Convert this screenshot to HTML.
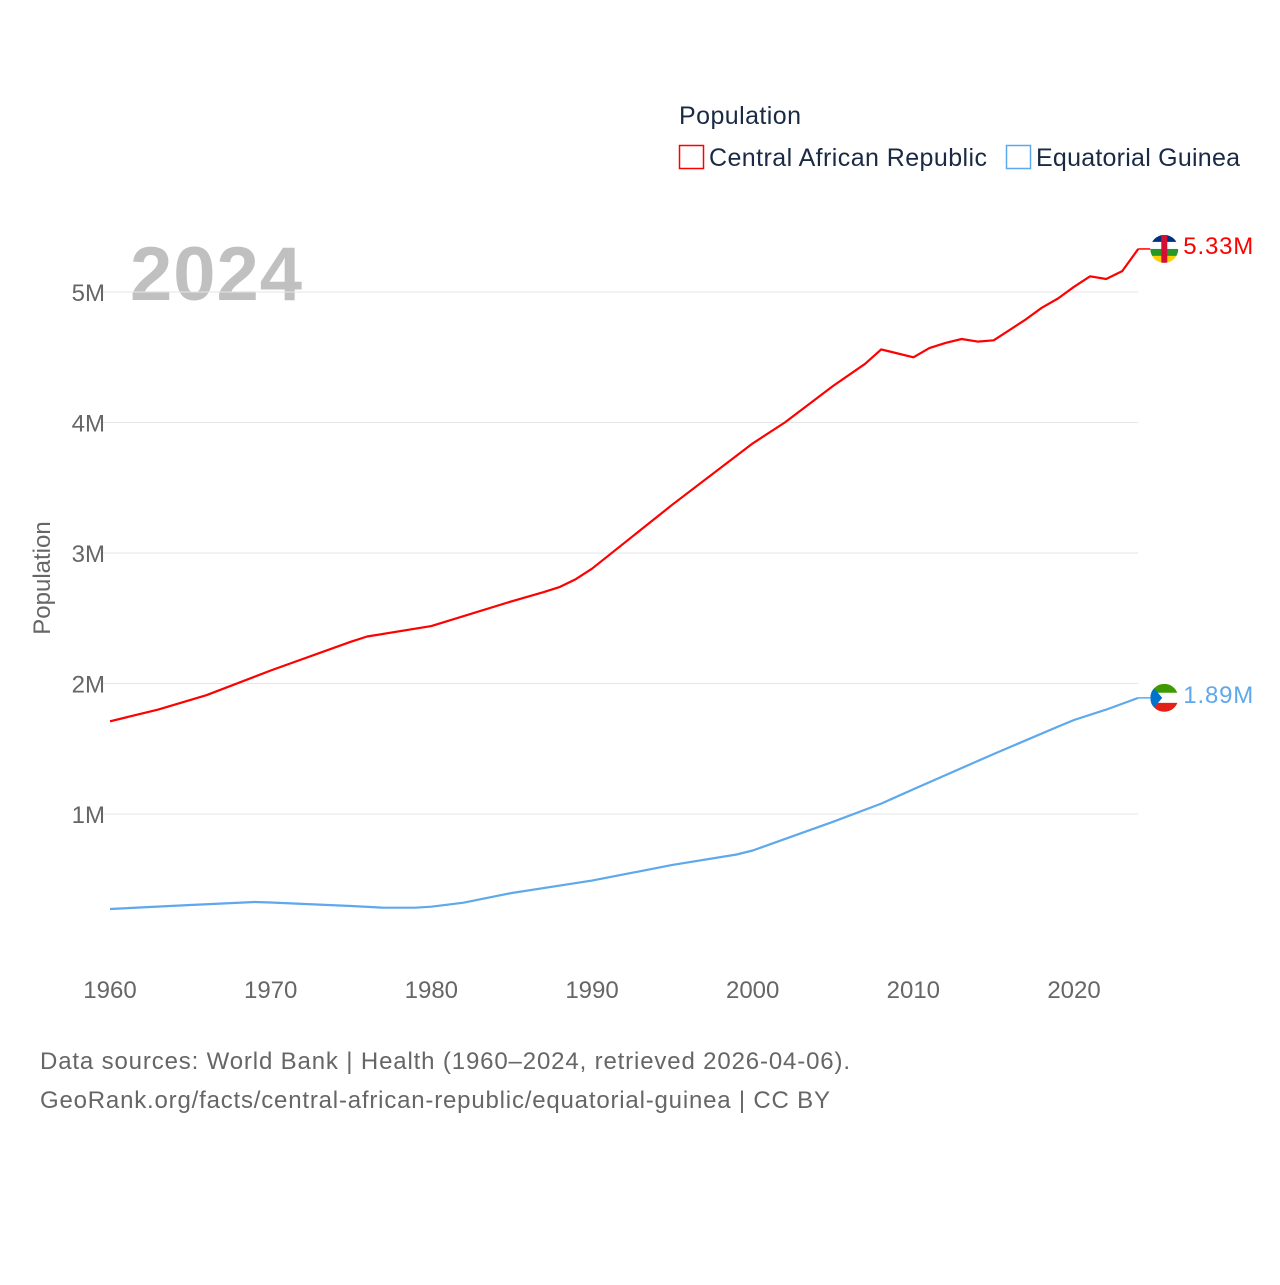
<!DOCTYPE html>
<html><head><meta charset="utf-8"><style>
body{margin:0;background:#fff;width:1280px;height:1280px;overflow:hidden;font-family:"Liberation Sans",sans-serif}
</style></head><body>
<svg id="chart" width="1280" height="1280" xmlns="http://www.w3.org/2000/svg" font-family="Liberation Sans, sans-serif">
<text x="679" y="124" font-size="25" fill="#1a2a44" textLength="122">Population</text>
<rect x="679.5" y="145.5" width="24" height="23" fill="none" stroke="#ff0000" stroke-width="1.5"/>
<text x="709" y="166" font-size="25" fill="#1a2a44" textLength="278">Central African Republic</text>
<rect x="1006.5" y="145.5" width="24" height="23" fill="none" stroke="#5ea8ec" stroke-width="1.5"/>
<text x="1036" y="166" font-size="25" fill="#1a2a44" textLength="204">Equatorial Guinea</text>
<text x="130" y="300" font-size="76" font-weight="bold" fill="#c0c0c0" textLength="172">2024</text>
<text transform="translate(50,578) rotate(-90)" text-anchor="middle" font-size="24" fill="#666">Population</text>
<g id="grid"></g><g id="ticks"></g><g id="series"></g>
<text x="40" y="1069" font-size="24" fill="#666" textLength="810">Data sources: World Bank | Health (1960–2024, retrieved 2026-04-06).</text>
<text x="40" y="1108" font-size="24" fill="#666" textLength="790">GeoRank.org/facts/central-african-republic/equatorial-guinea | CC BY</text>
</svg>
<script>
const yearsCAR=[1960,1963,1966,1970,1975,1976,1980,1985,1987,1988,1989,1990,1995,2000,2002,2005,2007,2008,2010,2011,2012,2013,2014,2015,2017,2018,2019,2020,2021,2022,2023,2024];
const valuesCAR=[1.71,1.80,1.91,2.10,2.32,2.36,2.44,2.63,2.70,2.74,2.80,2.88,3.37,3.84,4.00,4.28,4.45,4.56,4.50,4.57,4.61,4.64,4.62,4.63,4.79,4.88,4.95,5.04,5.12,5.10,5.16,5.33];
const yearsGQ=[1960,1965,1969,1970,1975,1977,1979,1980,1982,1985,1990,1995,1999,2000,2005,2008,2010,2015,2019,2020,2022,2024];
const valuesGQ=[0.272,0.303,0.326,0.322,0.295,0.282,0.282,0.290,0.320,0.395,0.49,0.61,0.69,0.72,0.94,1.08,1.19,1.46,1.67,1.72,1.80,1.89];
const yTicks=[1,2,3,4,5];
const xTicks=[1960,1970,1980,1990,2000,2010,2020];
const X=y=>110+(y-1960)*16.067;
const Y=v=>944.5-v*130.5;
const NS="http://www.w3.org/2000/svg";
function mk(t,a,p){const e=document.createElementNS(NS,t);for(const k in a)e.setAttribute(k,a[k]);p.appendChild(e);return e;}
const grid=document.getElementById('grid'),ticks=document.getElementById('ticks'),series=document.getElementById('series');
yTicks.forEach(v=>{
 const l=mk('line',{x1:100,x2:1138,y1:Y(v),y2:Y(v),stroke:'#e6e6e6','stroke-width':1},grid);
 
 
 const t=mk('text',{x:105,y:Y(v)+9,'text-anchor':'end','font-size':24,fill:'#666'},ticks);
 t.textContent=v+'M';
 
 
});
xTicks.forEach(y=>{
 const t=mk('text',{x:X(y),y:998,'text-anchor':'middle','font-size':24,fill:'#666'},ticks);
 t.textContent=y;
 
 
});
function line(ys,vs,c,name){
 const d=ys.map((y,i)=>(i?'L':'M')+X(y).toFixed(1)+','+Y(vs[i]).toFixed(1)).join('');
 const p=mk('path',{d:d,fill:'none',stroke:c,'stroke-width':2.2,'stroke-linejoin':'round'},series);
 
 
}
line(yearsCAR,valuesCAR,'#ff0000','line-car');
line(yearsGQ,valuesGQ,'#5ea8ec','line-gq');
function endLabel(v,c,name,flag,dy){
 const y=Y(v),x=X(2024);
 mk('line',{x1:x,x2:x+12,y1:y,y2:y,stroke:c,'stroke-width':1.5},series);
 const g=mk('g',{},series);
 
 
 const cx=x+26;
 const cp=mk('clipPath',{id:'cp'+name},g);mk('circle',{cx:cx,cy:y,r:14},cp);
 const gg=mk('g',{'clip-path':'url(#cp'+name+')'},g);
 flag(gg,cx,y);
 const t=mk('text',{x:x+45,y:y+8+dy,'font-size':24,fill:c,textLength:70},series);
 t.textContent=v.toFixed(2)+'M';
 
 
}
endLabel(valuesCAR[valuesCAR.length-1],'#ff0000','car',(g,cx,cy)=>{
 const c=['#003082','#ffffff','#289728','#ffce00'];
 c.forEach((f,i)=>mk('rect',{x:cx-14,y:cy-14+i*7,width:28,height:7,fill:f},g));
 mk('rect',{x:cx-3,y:cy-14,width:6,height:28,fill:'#d21034'},g);
},-3);
endLabel(valuesGQ[valuesGQ.length-1],'#5ea8ec','gq',(g,cx,cy)=>{
 mk('rect',{x:cx-14,y:cy-14,width:28,height:9,fill:'#3e9a00'},g);
 mk('rect',{x:cx-14,y:cy-5,width:28,height:10,fill:'#fff'},g);
 mk('rect',{x:cx-14,y:cy+5,width:28,height:9,fill:'#e32118'},g);
 mk('polygon',{points:(cx-14)+','+(cy-14)+' '+(cx-2)+','+cy+' '+(cx-14)+','+(cy+14),fill:'#0073ce'},g);
},-3);
</script>
</body></html>
